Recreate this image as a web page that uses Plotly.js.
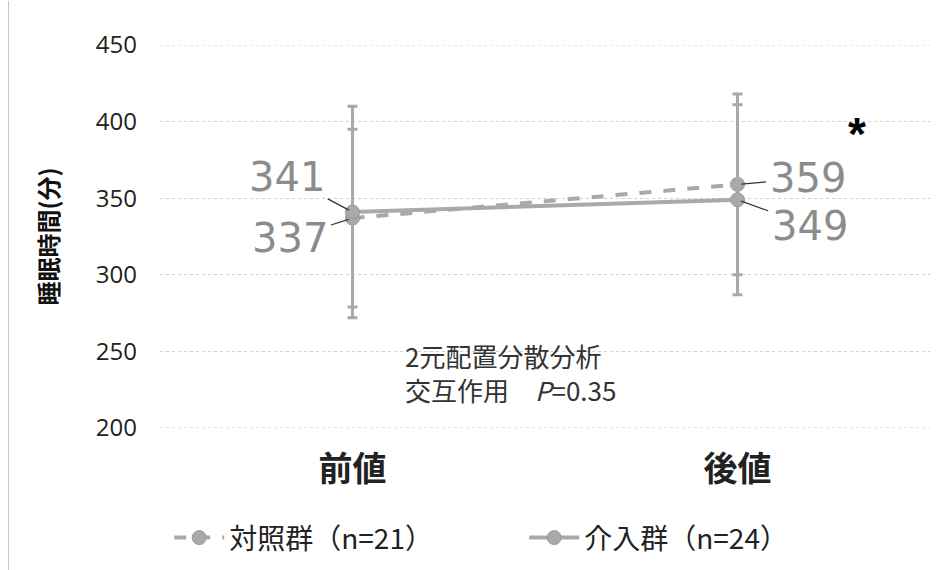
<!DOCTYPE html>
<html><head><meta charset="utf-8">
<script src="https://cdn.plot.ly/plotly-3.0.1.min.js"></script>
<style>html,body{margin:0;padding:0;background:#fff;}#frame{position:absolute;left:8px;top:1px;width:933px;height:600px;border-left:1px solid #c8c8c8;pointer-events:none;}</style>
</head><body>
<div id="chart" style="width:943px;height:570px;"></div>
<div id="frame"></div>
<script>
const categories = ['前値', '後値'];
const seriesNames = ['対照群（n=21）', '介入群（n=24）'];
const controlMean = [337, 359];
const controlSD = [58, 59];
const interventionMean = [341, 349];
const interventionSD = [69, 62];
const yTicks = [200, 250, 300, 350, 400, 450];

const grey = '#a9a9a9';
const jp = '"Noto Sans CJK JP", "Noto Sans", sans-serif';

const traces = [
  {
    x: categories, y: controlMean, name: seriesNames[0], type: 'scatter', mode: 'lines+markers',
    line: {color: grey, width: 4, dash: 'dash'},
    marker: {color: grey, size: 14, line: {color: '#999', width: 1}},
    error_y: {type: 'data', array: controlSD, visible: true, color: grey, thickness: 3, width: 5}
  },
  {
    x: categories, y: interventionMean, name: seriesNames[1], type: 'scatter', mode: 'lines+markers',
    line: {color: grey, width: 4},
    marker: {color: grey, size: 14, line: {color: '#999', width: 1}},
    error_y: {type: 'data', array: interventionSD, visible: true, color: grey, thickness: 3, width: 5}
  }
];

const lblFont = {family: '"DejaVu Sans", sans-serif', size: 40, color: '#8c8c8c'};
function lbl(xi, v, ax, ay) {
  return {x: categories[xi], y: v, xref: 'x', yref: 'y', text: String(v), showarrow: true,
    arrowhead: 0, arrowwidth: 1.2, arrowcolor: '#333', ax: ax, ay: ay, standoff: 4, startstandoff: 2,
    font: lblFont};
}

const edgeLine = v => ({type: 'line', xref: 'paper', yref: 'y', x0: 0, x1: 1, y0: v, y1: v,
  line: {color: '#cfcfcf', width: 1, dash: 'dot'}, layer: 'below'});

const layout = {
  width: 943, height: 570,
  margin: {l: 160, r: 13, t: 45, b: 142, autoexpand: false},
  paper_bgcolor: '#fff', plot_bgcolor: '#fff',
  showlegend: true,
  legend: {orientation: 'h', x: 0.012, xanchor: 'left', y: -0.287, yanchor: 'middle',
    entrywidth: 290, itemwidth: 50,
    font: {family: jp, size: 28, color: '#222'}, tracegroupgap: 0},
  xaxis: {
    type: 'category', range: [-0.5, 1.5], showgrid: false, zeroline: false, showline: false,
    ticks: '', tickfont: {family: jp, size: 34, color: '#222', weight: 'bold'}, ticklabelstandoff: 18
  },
  yaxis: {
    range: [200, 450], tickvals: yTicks, showgrid: true, gridcolor: '#cfcfcf', gridwidth: 1,
    griddash: 'dot', zeroline: false, showline: false, ticks: '',
    tickfont: {family: '"Open Sans", "Noto Sans", sans-serif', size: 24, color: '#222'},
    ticklabelstandoff: 22,
    title: {text: '睡眠時間(分)', font: {family: jp, size: 24, color: '#111', weight: 'bold'}, standoff: 30}
  },
  shapes: [edgeLine(200), edgeLine(450)],
  annotations: [
    lbl(0, interventionMean[0], -66, -35),
    lbl(0, controlMean[0], -63, 20),
    lbl(1, controlMean[1], 70, -6),
    lbl(1, interventionMean[1], 72, 26),
    {x: 0.92, y: 392, xref: 'paper', yref: 'y', text: '<b>*</b>', showarrow: false,
      font: {family: '"Liberation Sans", Arial, sans-serif', size: 46, color: '#000'}},
    {x: 0.315, y: 236.5, xref: 'paper', yref: 'y', xanchor: 'left', align: 'left', showarrow: false,
      text: '2元配置分散分析<br>交互作用　<i>P</i>=0.35', font: {family: jp, size: 26, color: '#333'}}
  ]
};

Plotly.newPlot('chart', traces, layout, {displayModeBar: false, staticPlot: true});
</script>
</body></html>
